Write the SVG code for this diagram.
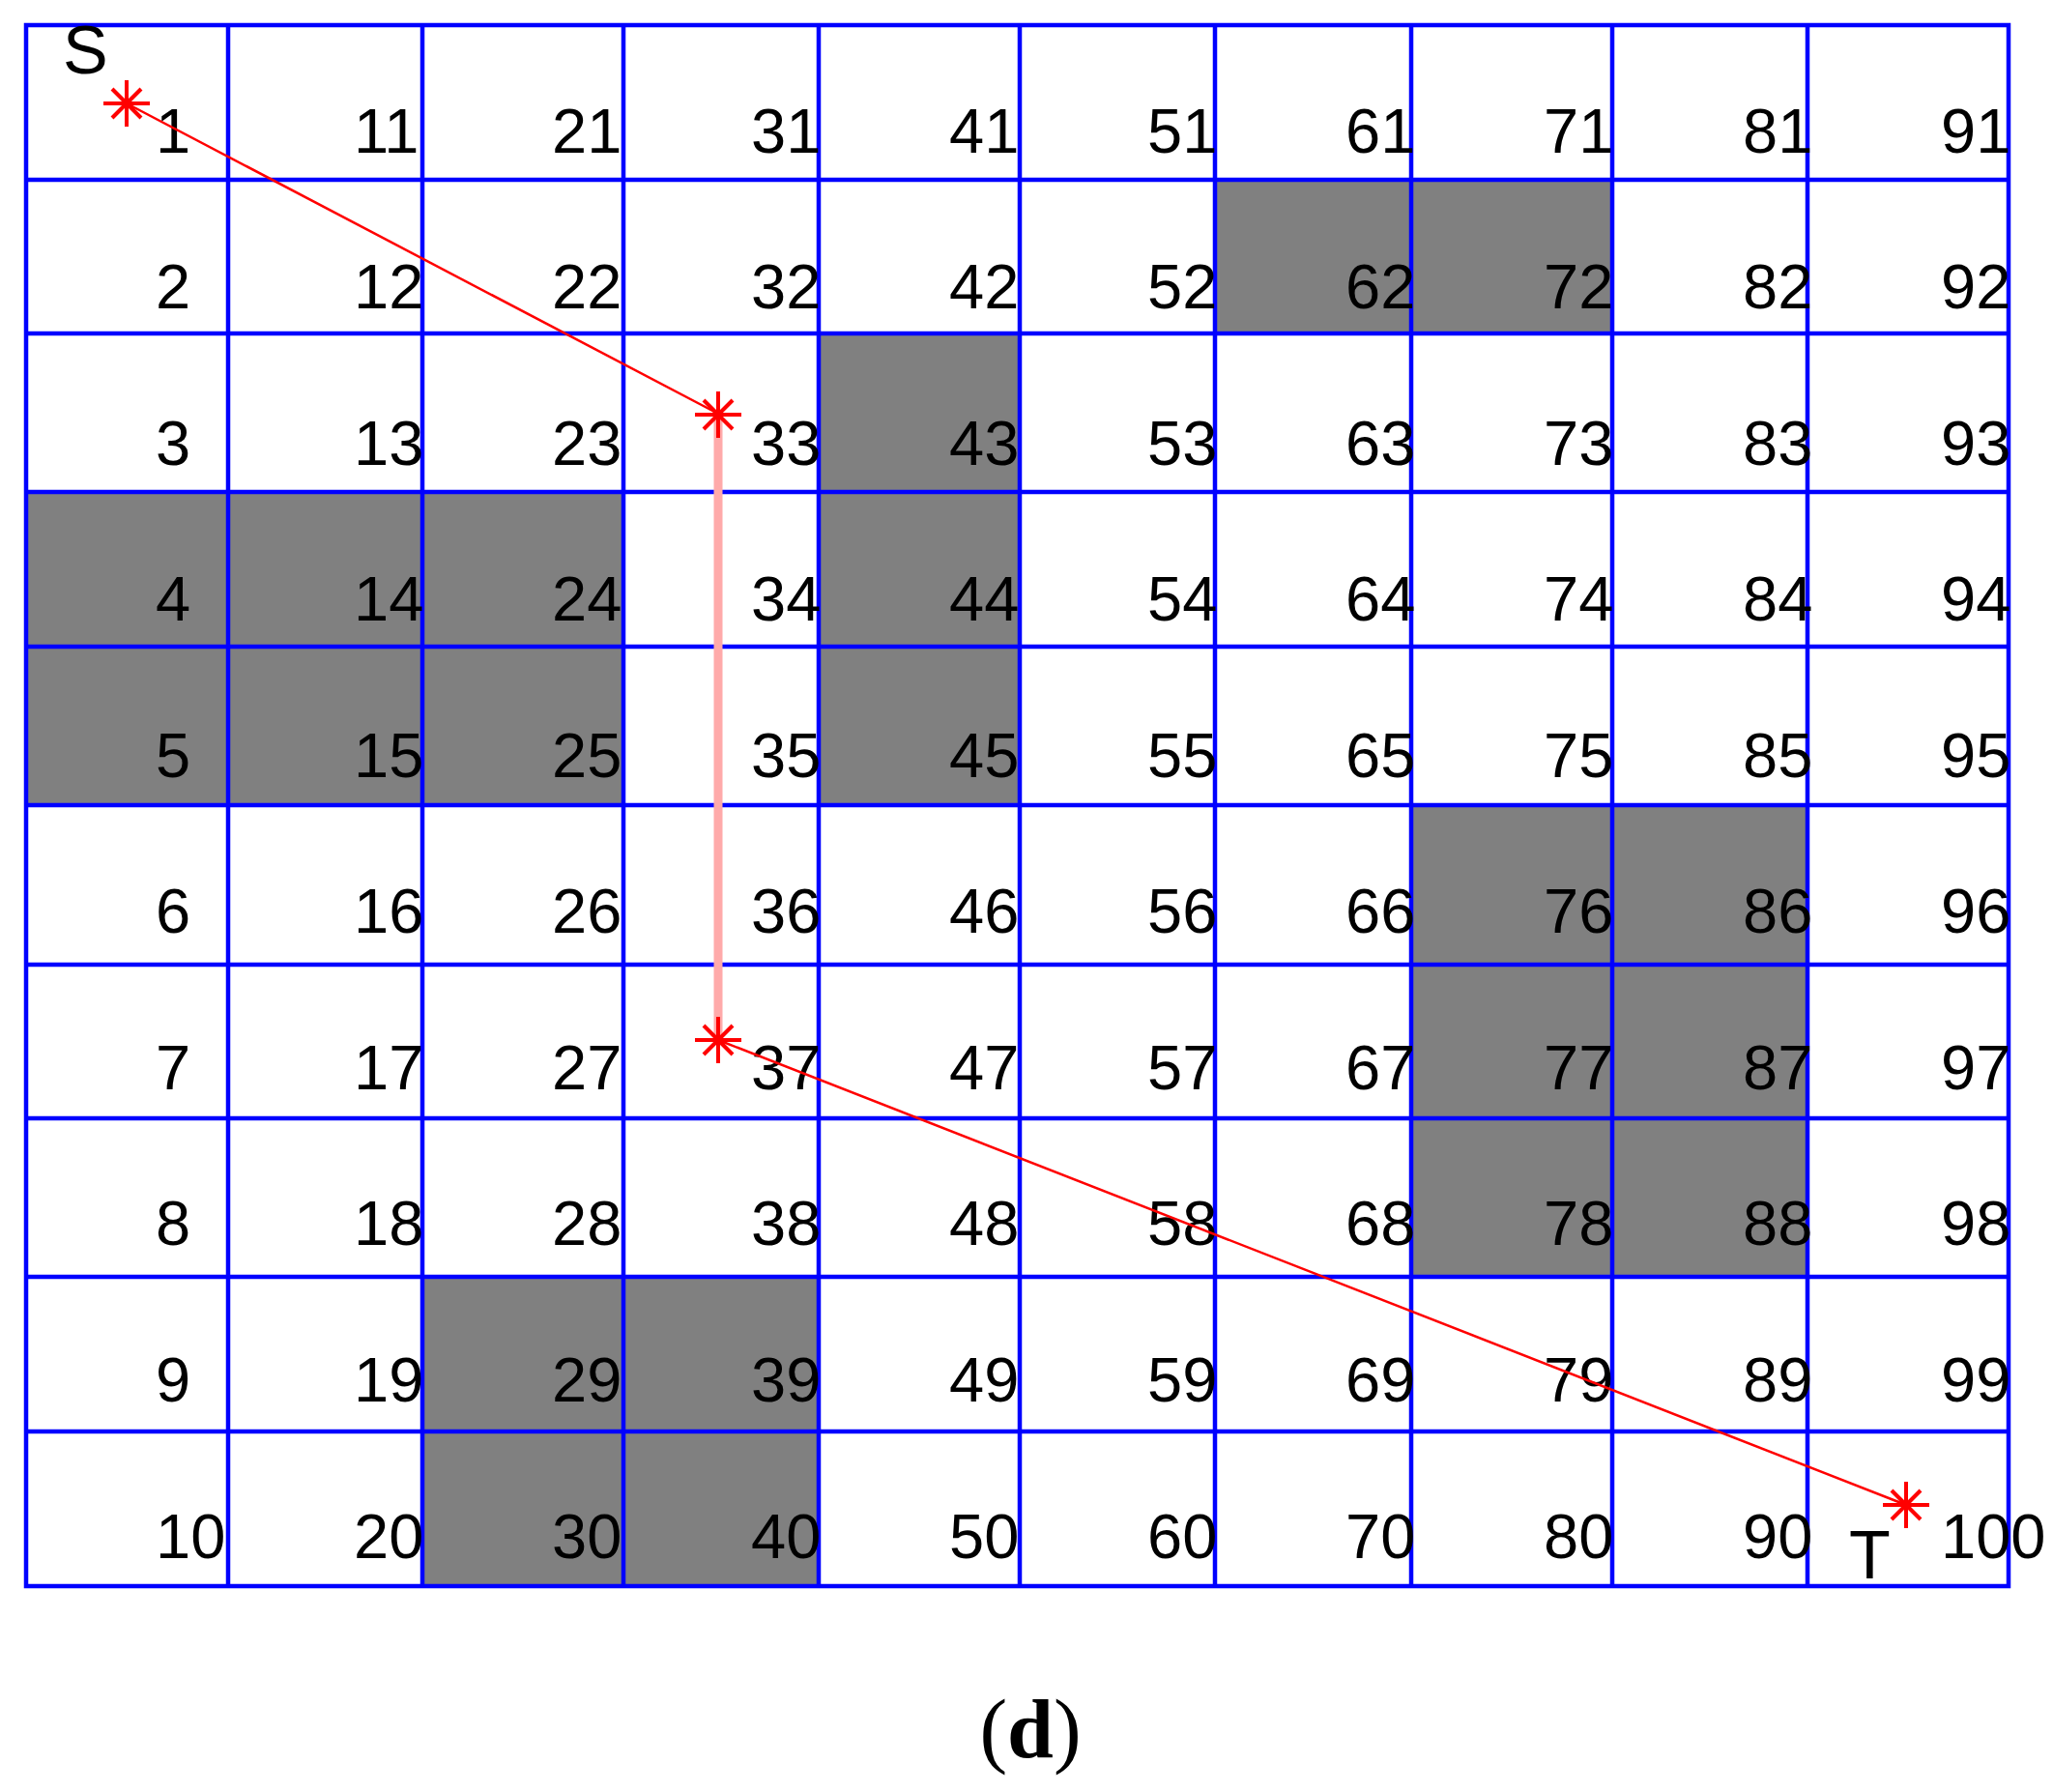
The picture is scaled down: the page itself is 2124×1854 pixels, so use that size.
<svg xmlns="http://www.w3.org/2000/svg" xmlns:xlink="http://www.w3.org/1999/xlink" width="2124" height="1854" viewBox="0 0 2124 1854">
<style>
.num{font-family:"Liberation Sans",Arial,sans-serif;font-size:65px;fill:#000}
.lbl{font-family:"Liberation Sans",Arial,sans-serif;font-size:70px;fill:#000}
.obs{fill:#808080}
.grid{stroke:#0000FF;stroke-width:4.5;fill:none}
.path{stroke:#FF0000;stroke-width:2.5;fill:none}
.pink{stroke:#FFAAAA;stroke-width:9;fill:none}
.star{stroke:#FF0000;stroke-width:4;fill:none}
</style>
<defs>
<g id="star">
<line class="star" x1="-24" y1="0" x2="24" y2="0"/>
<line class="star" x1="0" y1="-24" x2="0" y2="24"/>
<line class="star" x1="-15" y1="-15" x2="15" y2="15" stroke-width="3"/>
<line class="star" x1="-15" y1="15" x2="15" y2="-15" stroke-width="3"/>
</g>
</defs>
<rect width="2124" height="1854" fill="#fff"/>
<g id="obstacles">
<rect class="obs" x="1257" y="186" width="203" height="159"/>
<rect class="obs" x="1460" y="186" width="208" height="159"/>
<rect class="obs" x="847" y="345" width="208" height="488"/>
<rect class="obs" x="27" y="509" width="618" height="160"/>
<rect class="obs" x="27" y="669" width="618" height="164"/>
<rect class="obs" x="1460" y="833" width="410" height="488"/>
<rect class="obs" x="437" y="1321" width="410" height="320"/>
</g>
<g id="grid">
<rect class="grid" x="27" y="26" width="2051" height="1615"/>
<path class="grid" d="M236 26V1641M437 26V1641M645 26V1641M847 26V1641M1055 26V1641M1257 26V1641M1460 26V1641M1668 26V1641M1870 26V1641"/>
<path class="grid" d="M27 186H2078M27 345H2078M27 509H2078M27 669H2078M27 833H2078M27 998H2078M27 1157H2078M27 1321H2078M27 1481H2078"/>
</g>
<g id="numbers">
<text class="num" x="161" y="158">1</text><text class="num" x="161" y="319">2</text><text class="num" x="161" y="481">3</text><text class="num" x="161" y="642">4</text><text class="num" x="161" y="804">5</text><text class="num" x="161" y="965">6</text><text class="num" x="161" y="1127">7</text><text class="num" x="161" y="1288">8</text><text class="num" x="161" y="1450">9</text><text class="num" x="161" y="1612">10</text>
<text class="num" x="366" y="158">11</text><text class="num" x="366" y="319">12</text><text class="num" x="366" y="481">13</text><text class="num" x="366" y="642">14</text><text class="num" x="366" y="804">15</text><text class="num" x="366" y="965">16</text><text class="num" x="366" y="1127">17</text><text class="num" x="366" y="1288">18</text><text class="num" x="366" y="1450">19</text><text class="num" x="366" y="1612">20</text>
<text class="num" x="571" y="158">21</text><text class="num" x="571" y="319">22</text><text class="num" x="571" y="481">23</text><text class="num" x="571" y="642">24</text><text class="num" x="571" y="804">25</text><text class="num" x="571" y="965">26</text><text class="num" x="571" y="1127">27</text><text class="num" x="571" y="1288">28</text><text class="num" x="571" y="1450">29</text><text class="num" x="571" y="1612">30</text>
<text class="num" x="777" y="158">31</text><text class="num" x="777" y="319">32</text><text class="num" x="777" y="481">33</text><text class="num" x="777" y="642">34</text><text class="num" x="777" y="804">35</text><text class="num" x="777" y="965">36</text><text class="num" x="777" y="1127">37</text><text class="num" x="777" y="1288">38</text><text class="num" x="777" y="1450">39</text><text class="num" x="777" y="1612">40</text>
<text class="num" x="982" y="158">41</text><text class="num" x="982" y="319">42</text><text class="num" x="982" y="481">43</text><text class="num" x="982" y="642">44</text><text class="num" x="982" y="804">45</text><text class="num" x="982" y="965">46</text><text class="num" x="982" y="1127">47</text><text class="num" x="982" y="1288">48</text><text class="num" x="982" y="1450">49</text><text class="num" x="982" y="1612">50</text>
<text class="num" x="1187" y="158">51</text><text class="num" x="1187" y="319">52</text><text class="num" x="1187" y="481">53</text><text class="num" x="1187" y="642">54</text><text class="num" x="1187" y="804">55</text><text class="num" x="1187" y="965">56</text><text class="num" x="1187" y="1127">57</text><text class="num" x="1187" y="1288">58</text><text class="num" x="1187" y="1450">59</text><text class="num" x="1187" y="1612">60</text>
<text class="num" x="1392" y="158">61</text><text class="num" x="1392" y="319">62</text><text class="num" x="1392" y="481">63</text><text class="num" x="1392" y="642">64</text><text class="num" x="1392" y="804">65</text><text class="num" x="1392" y="965">66</text><text class="num" x="1392" y="1127">67</text><text class="num" x="1392" y="1288">68</text><text class="num" x="1392" y="1450">69</text><text class="num" x="1392" y="1612">70</text>
<text class="num" x="1597" y="158">71</text><text class="num" x="1597" y="319">72</text><text class="num" x="1597" y="481">73</text><text class="num" x="1597" y="642">74</text><text class="num" x="1597" y="804">75</text><text class="num" x="1597" y="965">76</text><text class="num" x="1597" y="1127">77</text><text class="num" x="1597" y="1288">78</text><text class="num" x="1597" y="1450">79</text><text class="num" x="1597" y="1612">80</text>
<text class="num" x="1803" y="158">81</text><text class="num" x="1803" y="319">82</text><text class="num" x="1803" y="481">83</text><text class="num" x="1803" y="642">84</text><text class="num" x="1803" y="804">85</text><text class="num" x="1803" y="965">86</text><text class="num" x="1803" y="1127">87</text><text class="num" x="1803" y="1288">88</text><text class="num" x="1803" y="1450">89</text><text class="num" x="1803" y="1612">90</text>
<text class="num" x="2008" y="158">91</text><text class="num" x="2008" y="319">92</text><text class="num" x="2008" y="481">93</text><text class="num" x="2008" y="642">94</text><text class="num" x="2008" y="804">95</text><text class="num" x="2008" y="965">96</text><text class="num" x="2008" y="1127">97</text><text class="num" x="2008" y="1288">98</text><text class="num" x="2008" y="1450">99</text><text class="num" x="2008" y="1612">100</text>
</g>
<g id="connectors">
<line class="path" x1="131" y1="107" x2="743" y2="428"/>
<line class="pink" x1="743" y1="428" x2="743" y2="1076"/>
<line class="path" x1="743" y1="1076" x2="1972" y2="1557"/>
</g>
<g id="waypoints">
<use xlink:href="#star" x="131" y="107"/>
<use xlink:href="#star" x="743" y="429"/>
<use xlink:href="#star" x="743" y="1076"/>
<use xlink:href="#star" x="1972" y="1557"/>
</g>
<g id="labels">
<text class="lbl" x="65" y="76">S</text>
<text class="lbl" x="1913" y="1633">T</text>
</g>
<g id="caption">
<text x="1066" y="1818" text-anchor="middle" font-family="Liberation Serif, 'Times New Roman', serif" font-size="86">(<tspan font-weight="bold">d</tspan>)</text>
</g>
</svg>
